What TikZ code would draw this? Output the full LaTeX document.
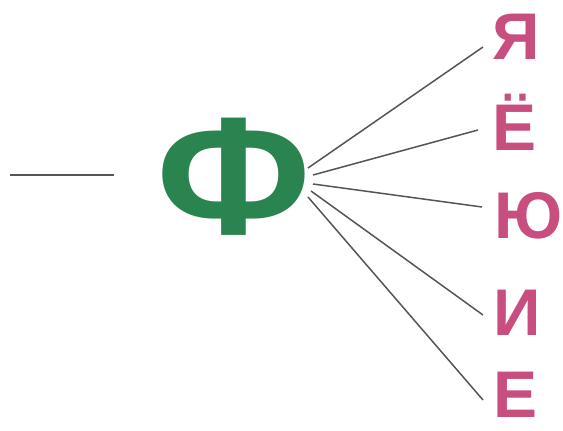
\documentclass[tikz,border=0pt]{standalone}
\usepackage{fontspec}
\setmainfont{Liberation Sans}
\definecolor{phigreen}{RGB}{42,132,80}
\definecolor{lpink}{RGB}{200,78,128}
\definecolor{lgray}{RGB}{85,85,85}
\begin{document}
\begin{tikzpicture}[x=1pt,y=-1pt,
  letter/.style={text=lpink,font=\fontsize{66}{66}\selectfont\bfseries,inner sep=0pt,anchor=center},
  conn/.style={draw=lgray,line width=1.5pt}]
\useasboundingbox (0,0) rectangle (563,431);
\node[text=phigreen,font=\fontsize{168}{168}\selectfont\bfseries,inner sep=0pt,xscale=1.08] (phi) at (234,177) {Ф};
\coordinate (l1) at (10,175);
\coordinate (l2) at (114,175);
\draw[conn] (l1) -- (l2);
\node[letter] (ya) at (516,37) {Я};
\node[letter] (yo) at (515,122) {Ё};
\node[letter] (yu) at (529,216) {Ю};
\node[letter] (i) at (517,313) {И};
\node[letter] (e) at (516,395) {Е};
\coordinate (s1) at (308,168);
\coordinate (s2) at (313,175);
\coordinate (s3) at (313,184);
\coordinate (s4) at (311,191);
\coordinate (s5) at (308,197);
\coordinate (t1) at (483,47);
\coordinate (t2) at (478,130);
\coordinate (t3) at (482,207);
\coordinate (t4) at (483,315);
\coordinate (t5) at (483,400);
\draw[conn] (s1) -- (t1);
\draw[conn] (s2) -- (t2);
\draw[conn] (s3) -- (t3);
\draw[conn] (s4) -- (t4);
\draw[conn] (s5) -- (t5);
\end{tikzpicture}
\end{document}
